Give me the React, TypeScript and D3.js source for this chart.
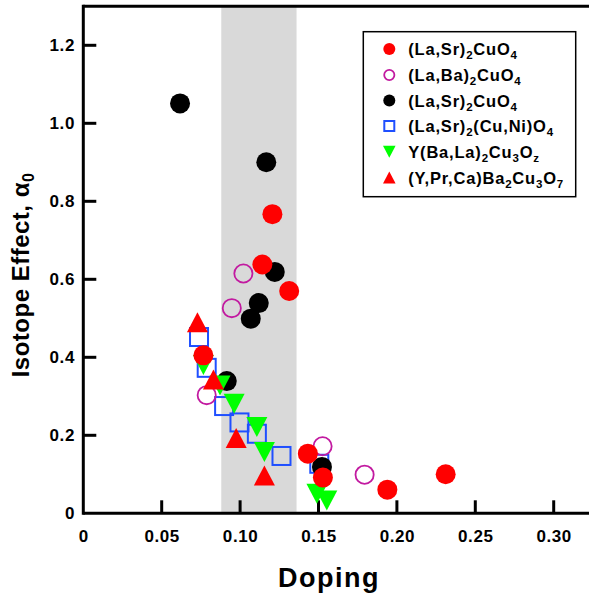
import React from "react";
import * as d3 from "d3";

const xTicks = [0, 0.05, 0.1, 0.15, 0.2, 0.25, 0.3];
const xTickLabels = ["0", "0.05", "0.10", "0.15", "0.20", "0.25", "0.30"];
const yTicks = [0, 0.2, 0.4, 0.6, 0.8, 1.0, 1.2];
const yTickLabels = ["0", "0.2", "0.4", "0.6", "0.8", "1.0", "1.2"];
const band = [0.088, 0.136];

const laSrX = [0.1206, 0.1142, 0.1313, 0.0766, 0.1432, 0.1528, 0.1939, 0.2311];
const laSrY = [0.767, 0.638, 0.57, 0.405, 0.153, 0.0915, 0.0607, 0.1];
const laBaX = [0.1021, 0.0947, 0.0787, 0.1526, 0.1794];
const laBaY = [0.615, 0.526, 0.303, 0.172, 0.099];
const laSr2X = [0.0617, 0.1167, 0.1221, 0.1119, 0.1068, 0.0915, 0.1522];
const laSr2Y = [1.051, 0.9, 0.619, 0.539, 0.499, 0.339, 0.119];
const niX = [0.0738, 0.0787, 0.0898, 0.0996, 0.1107, 0.1264, 0.1505];
const niY = [0.452, 0.373, 0.275, 0.233, 0.204, 0.147, 0.127];
const ybaX = [0.0766, 0.0872, 0.0962, 0.1107, 0.1155, 0.149, 0.1553];
const ybaY = [0.38, 0.328, 0.281, 0.221, 0.157, 0.05, 0.033];
const yprX = [0.0728, 0.083, 0.0975, 0.1155];
const yprY = [0.49, 0.343, 0.193, 0.097];

const legendLabels = [
  "(La,Sr)_2CuO_4",
  "(La,Ba)_2CuO_4",
  "(La,Sr)_2CuO_4",
  "(La,Sr)_2(Cu,Ni)O_4",
  "Y(Ba,La)_2Cu_3O_z",
  "(Y,Pr,Ca)Ba_2Cu_3O_7",
];

type Kind = "fcircle" | "ocircle" | "square" | "tdown" | "tup";
const series: { kind: Kind; color: string; xs: number[]; ys: number[] }[] = [
  { kind: "fcircle", color: "#ff0000", xs: laSrX, ys: laSrY },
  { kind: "ocircle", color: "#c21aa0", xs: laBaX, ys: laBaY },
  { kind: "fcircle", color: "#000000", xs: laSr2X, ys: laSr2Y },
  { kind: "square", color: "#1f4fff", xs: niX, ys: niY },
  { kind: "tdown", color: "#00ff00", xs: ybaX, ys: ybaY },
  { kind: "tup", color: "#ff0000", xs: yprX, ys: yprY },
];
const drawOrder = [3, 1, 2, 4, 0, 5];

const FONT = "'Liberation Sans', Arial, Helvetica, sans-serif";

function Marker({ kind, color, x, y, s }: { kind: Kind; color: string; x: number; y: number; s: number }) {
  const h = s / 2;
  if (kind === "fcircle") return <circle cx={x} cy={y} r={h} fill={color} />;
  if (kind === "ocircle")
    return <circle cx={x} cy={y} r={h - 0.9} fill="none" stroke={color} strokeWidth={1.8} />;
  if (kind === "square")
    return <rect x={x - h + 1} y={y - h + 1} width={s - 2} height={s - 2} fill="none" stroke={color} strokeWidth={2} />;
  const w = h * 1.05;
  if (kind === "tup")
    return <path d={`M${x},${y - h}L${x + w},${y + h}L${x - w},${y + h}Z`} fill={color} />;
  return <path d={`M${x},${y + h}L${x + w},${y - h}L${x - w},${y - h}Z`} fill={color} />;
}

function Label({ text, x, y }: { text: string; x: number; y: number }) {
  const parts: { t: string; sub: boolean }[] = [];
  const re = /_(.)/g;
  let last = 0;
  let m: RegExpExecArray | null;
  while ((m = re.exec(text))) {
    if (m.index > last) parts.push({ t: text.slice(last, m.index), sub: false });
    parts.push({ t: m[1], sub: true });
    last = m.index + 2;
  }
  if (last < text.length) parts.push({ t: text.slice(last), sub: false });
  let prevSub = false;
  return (
    <text x={x} y={y} fontFamily={FONT} fontWeight="bold" fontSize={16.5} letterSpacing={0.8}>
      {parts.map((p, i) => {
        const dy = p.sub && !prevSub ? 4 : !p.sub && prevSub ? -4 : 0;
        prevSub = p.sub;
        return (
          <tspan key={i} dy={dy} fontSize={p.sub ? 11.5 : 16.5}>
            {p.t}
          </tspan>
        );
      })}
    </text>
  );
}

export default function App() {
  const W = 589,
    H = 597;
  const x = d3.scaleLinear().domain([0, 0.33]).range([83.3, 83.3 + 0.33 * 1568]);
  const y = d3.scaleLinear().domain([0, 1.3]).range([513.3, 6.3]);
  const legY = [49, 75, 100.5, 126, 151.7, 177.5];
  return (
    <svg width={W} height={H} style={{ position: "absolute", left: 0, top: 0, background: "#fff" }}>
      <rect x={0} y={0} width={W} height={H} fill="#fff" />
      <rect
        x={x(band[0])}
        y={y(1.3)}
        width={x(band[1]) - x(band[0])}
        height={y(0) - y(1.3)}
        fill="#d9d9d9"
      />
      {/* axes */}
      <g stroke="#000" strokeWidth={3} fill="none">
        <line x1={x(0)} y1={y(0)} x2={x(0.33) + 2} y2={y(0)} />
        <line x1={x(0)} y1={y(0) + 1.5} x2={x(0)} y2={y(1.3) - 1.5} />
        <line x1={x(0)} y1={y(1.3)} x2={x(0.33) + 2} y2={y(1.3)} />
        <line x1={x(0.33)} y1={y(0)} x2={x(0.33)} y2={y(1.3)} />
        {xTicks.slice(1).map((t) => (
          <line key={t} x1={x(t)} x2={x(t)} y1={y(0)} y2={y(0) - 13} />
        ))}
        {yTicks.slice(1).map((t) => (
          <line key={t} x1={x(0)} x2={x(0) + 13} y1={y(t)} y2={y(t)} />
        ))}
      </g>
      <g fontFamily={FONT} fontWeight="bold" fontSize={17} letterSpacing={0.6}>
        {xTicks.map((t, i) => (
          <text key={t} x={x(t) + 0.5} y={541.5} textAnchor="middle">
            {xTickLabels[i]}
          </text>
        ))}
        {yTicks.map((t, i) => (
          <text key={t} x={75} y={y(t) + 6} textAnchor="end">
            {yTickLabels[i]}
          </text>
        ))}
      </g>
      <text x={329} y={587} textAnchor="middle" fontFamily={FONT} fontWeight="bold" fontSize={27} letterSpacing={1.5}>
        Doping
      </text>
      <text
        transform={`translate(29,275) rotate(-90)`}
        textAnchor="middle"
        fontFamily={FONT}
        fontWeight="bold"
        fontSize={24}
        letterSpacing={0.5}
      >
        Isotope Effect, α<tspan dy={5} fontSize={16}>0</tspan>
      </text>
      {/* points */}
      {drawOrder.map((si) => {
        const s = series[si];
        return (
          <g key={si}>
            {s.xs.map((v, i) => (
              <Marker key={i} kind={s.kind} color={s.color} x={x(v)} y={y(s.ys[i])} s={20} />
            ))}
          </g>
        );
      })}
      {/* legend */}
      <rect x={363.3} y={31.7} width={212.4} height={165} fill="#fff" stroke="#000" strokeWidth={1.5} />
      {series.map((s, i) => (
        <g key={i}>
          <Marker kind={s.kind} color={s.color} x={389.3} y={legY[i]} s={12} />
          <Label text={legendLabels[i]} x={408.3} y={legY[i] + 6} />
        </g>
      ))}
    </svg>
  );
}
